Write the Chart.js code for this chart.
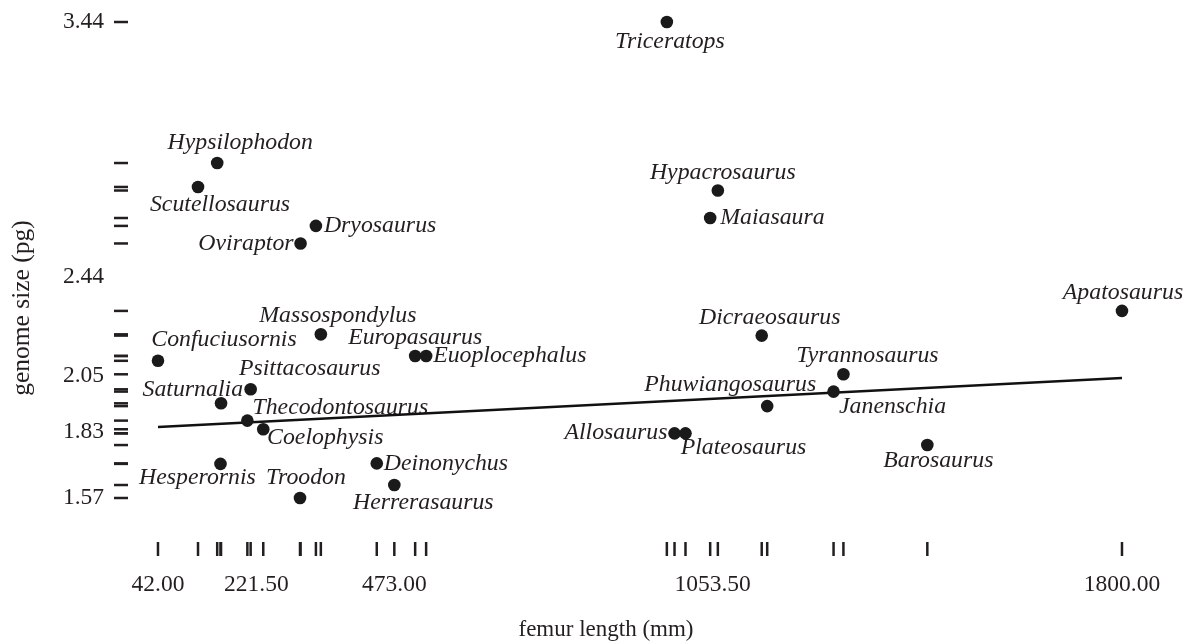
<!DOCTYPE html>
<html>
<head>
<meta charset="utf-8">
<script src="https://cdn.jsdelivr.net/npm/chart.js@4.4.1/dist/chart.umd.min.js"></script>
<style>
  html, body { margin: 0; padding: 0; background: #fff; }
</style>
</head>
<body>
<canvas id="genomeChart" width="1188" height="644"></canvas>
<script>
//////////////////
// Femur length vs genome size, with rugs on both axes

var taxa = ["Triceratops","Hypsilophodon","Scutellosaurus","Oviraptor","Dryosaurus","Hypacrosaurus","Maiasaura",
            "Apatosaurus","Massospondylus","Confuciusornis","Europasaurus","Euoplocephalus","Psittacosaurus","Saturnalia",
            "Thecodontosaurus","Coelophysis","Hesperornis","Troodon","Deinonychus","Herrerasaurus","Dicraeosaurus",
            "Tyrannosaurus","Janenschia","Phuwiangosaurus","Allosaurus","Plateosaurus","Barosaurus"];
var femurLength = [970, 150, 115, 302, 330, 1063, 1049,
                   1800, 339, 42, 511, 531, 211, 157,
                   205, 234, 156, 301, 441, 473, 1143,
                   1292, 1274, 1153, 984, 1004, 1445];
var genomeSize = [3.44, 2.886, 2.792, 2.570, 2.639, 2.778, 2.670,
                  2.305, 2.213, 2.109, 2.128, 2.128, 1.997, 1.942,
                  1.874, 1.840, 1.704, 1.57, 1.706, 1.621, 2.208,
                  2.056, 1.988, 1.931, 1.824, 1.824, 1.778];

var xTickValues = [42, 221.5, 473, 1053.5, 1800];
var yTickValues = [1.57, 1.83, 2.05, 2.44, 3.44];

// fitted line, read at both ends
var fitFemur = [42, 1800];
var fitGenome = [1.849, 2.041];

// where each name sits next to its dot: [dx, dy, align]
var labelPlace = {
  "Triceratops": [3, 20, "center"],
  "Hypsilophodon": [23, -20, "center"],
  "Scutellosaurus": [22, 18, "center"],
  "Oviraptor": [-7, 0, "right"],
  "Dryosaurus": [8, 0, "left"],
  "Hypacrosaurus": [5, -18, "center"],
  "Maiasaura": [10, 0, "left"],
  "Apatosaurus": [1, -18, "center"],
  "Massospondylus": [17, -19, "center"],
  "Confuciusornis": [66, -21, "center"],
  "Europasaurus": [0, -18, "center"],
  "Euoplocephalus": [7, 0, "left"],
  "Psittacosaurus": [59, -21, "center"],
  "Saturnalia": [22, -14, "right"],
  "Thecodontosaurus": [93, -13, "center"],
  "Coelophysis": [62, 8, "center"],
  "Hesperornis": [-23, 14, "center"],
  "Troodon": [6, -20, "center"],
  "Deinonychus": [7, 0, "left"],
  "Herrerasaurus": [29, 18, "center"],
  "Dicraeosaurus": [8, -18, "center"],
  "Tyrannosaurus": [24, -19, "center"],
  "Janenschia": [59, 15, "center"],
  "Phuwiangosaurus": [-37, -21, "center"],
  "Allosaurus": [-7, -1, "right"],
  "Plateosaurus": [58, 14, "center"],
  "Barosaurus": [11, 16, "center"]
};

var ink = "#231f20";
var serif = "'Liberation Serif', 'Times New Roman', serif";

var pointData = femurLength.map(function (v, i) { return {x: v, y: genomeSize[i]}; });
var fitData = fitFemur.map(function (v, i) { return {x: v, y: fitGenome[i]}; });

var rugPlugin = {
  id: 'rugs',
  afterDatasetsDraw: function (chart) {
    var ctx = chart.ctx, area = chart.chartArea;
    var xs = chart.scales.x, ys = chart.scales.y;
    ctx.save();
    ctx.strokeStyle = ink;
    ctx.lineWidth = 2.5;
    femurLength.forEach(function (v) {
      var px = xs.getPixelForValue(v);
      ctx.beginPath();
      ctx.moveTo(px, area.bottom - 18);
      ctx.lineTo(px, area.bottom - 4);
      ctx.stroke();
    });
    genomeSize.forEach(function (v) {
      var py = ys.getPixelForValue(v);
      ctx.beginPath();
      ctx.moveTo(area.left + 4, py);
      ctx.lineTo(area.left + 18, py);
      ctx.stroke();
    });
    ctx.restore();
  }
};

var namePlugin = {
  id: 'names',
  beforeDatasetsDraw: function (chart) {
    var ctx = chart.ctx;
    var meta = chart.getDatasetMeta(1);
    ctx.save();
    ctx.font = "italic 23.8px " + serif;
    ctx.fillStyle = ink;
    ctx.textBaseline = "middle";
    meta.data.forEach(function (pt, i) {
      var p = labelPlace[taxa[i]];
      ctx.textAlign = p[2];
      ctx.fillText(taxa[i], pt.x + p[0], pt.y + p[1]);
    });
    ctx.restore();
  }
};

// axis titles sit a bit off-centre in the original, so draw them here
var axisTitlePlugin = {
  id: 'axisTitles',
  afterDraw: function (chart) {
    var ctx = chart.ctx;
    ctx.save();
    ctx.fillStyle = ink;
    ctx.textAlign = "center";
    ctx.textBaseline = "middle";
    ctx.font = "23px " + serif;
    ctx.fillText("femur length (mm)", 606, 630);
    ctx.translate(22, 308);
    ctx.rotate(-Math.PI / 2);
    ctx.font = "25.5px " + serif;
    ctx.fillText("genome size (pg)", 0, 0);
    ctx.restore();
  }
};

var config = {
  type: 'scatter',
  data: {
    datasets: [{
      type: 'line',
      data: fitData,
      borderColor: "#111",
      borderWidth: 2.5,
      pointRadius: 0,
      fill: false,
      order: 2
    }, {
      data: pointData,
      backgroundColor: "#1a1a1a",
      borderWidth: 0,
      pointRadius: 6.3,
      order: 1
    }]
  },
  options: {
    responsive: false,
    animation: false,
    layout: { padding: { top: 10, right: 8, bottom: 0, left: 0 } },
    plugins: { legend: { display: false }, tooltip: { enabled: false } },
    scales: {
      x: {
        type: 'linear',
        min: -45.5,
        max: 1905.8,
        afterBuildTicks: function (s) { s.ticks = xTickValues.map(function (v) { return {value: v}; }); },
        afterFit: function (s) { s.height = 84; s.paddingLeft = 0; s.paddingRight = 0; },
        grid: { display: false, drawTicks: false },
        border: { display: false },
        ticks: {
          autoSkip: false, maxRotation: 0, padding: 11, color: ink,
          font: { family: serif, size: 23.5 },
          callback: function (v) { return Number(v).toFixed(2); }
        },
        title: { display: false }
      },
      y: {
        type: 'linear',
        min: 1.3264,
        max: 3.4872,
        afterBuildTicks: function (s) { s.ticks = yTickValues.map(function (v) { return {value: v}; }); },
        afterFit: function (s) { s.width = 110; s.paddingTop = 0; s.paddingBottom = 0; },
        grid: { display: false, drawTicks: false },
        border: { display: false },
        ticks: {
          autoSkip: false, padding: 6, color: ink,
          font: { family: serif, size: 23.5 },
          callback: function (v) { return Number(v).toFixed(2); }
        },
        title: { display: false }
      }
    }
  },
  plugins: [rugPlugin, namePlugin, axisTitlePlugin]
};

var ctxGenome = document.getElementById('genomeChart').getContext('2d');
var chartGenome = new Chart(ctxGenome, config);
</script>
</body>
</html>
